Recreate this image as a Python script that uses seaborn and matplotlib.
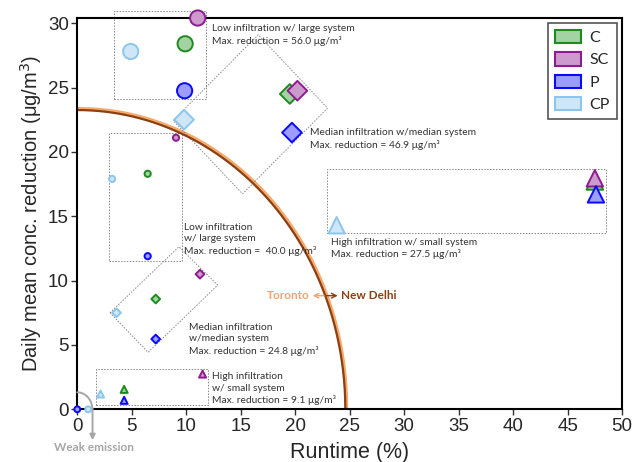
import numpy as np
import pandas as pd
import matplotlib
matplotlib.use("Agg")
import matplotlib.pyplot as plt
import seaborn as sns
from matplotlib.patches import Rectangle, Polygon, Patch

# systems and colours
systems = ["C", "SC", "P", "CP"]
edge_colors = {"C": "#1f8a1f", "SC": "#8e1c8e", "P": "#0a0aff", "CP": "#8cc6ec"}
fill_colors = {"C": "#a3d3a3", "SC": "#cc9acc", "P": "#9d9dff", "CP": "#cfe6f6"}

# (runtime %, reduction ug/m3) for C, SC, P, CP in each scenario
low_large_x = [9.9, 11.05, 9.85, 4.9]
low_large_y = [28.4, 30.4, 24.75, 27.8]
med_med_x = [19.5, 20.2, 19.7, 9.8]
med_med_y = [24.5, 24.75, 21.5, 22.5]
high_small_x = [47.5, 47.5, 47.6, 23.8]
high_small_y = [17.7, 17.95, 16.7, 14.3]
low_large2_x = [6.46, 9.06, 6.46, 3.2]
low_large2_y = [18.3, 21.1, 11.9, 17.9]
med_med2_x = [7.2, 11.26, 7.2, 3.6]
med_med2_y = [8.57, 10.5, 5.46, 7.5]
high_small2_x = [4.3, 11.5, 4.3, 2.14]
high_small2_y = [1.55, 2.74, 0.7, 1.19]
weak_x = [0.0, 1.0]
weak_y = [0.0, 0.0]
weak_sys = ["P", "CP"]

# Toronto / New Delhi boundary (quarter ellipse)
curve_rx = 24.6
curve_ry = 23.25

groups = [
    (low_large_x, low_large_y, systems, "o", 120),
    (med_med_x, med_med_y, systems, "D", 100),
    (high_small_x, high_small_y, systems, "^", 140),
    (low_large2_x, low_large2_y, systems, "o", 20),
    (med_med2_x, med_med2_y, systems, "D", 20),
    (high_small2_x, high_small2_y, systems, "^", 26),
    (weak_x, weak_y, weak_sys, "o", 18),
]

sns.set_style("ticks")
plt.rcParams["font.family"] = ["Liberation Sans", "DejaVu Sans"]

fig = plt.figure(figsize=(6.44, 4.62), dpi=100)
ax = fig.add_axes([0.12, 0.114, 0.846, 0.847])

# boundary curve
t = np.linspace(0, np.pi / 2, 300)
cx = curve_rx * np.sin(t)
cy = curve_ry * np.cos(t)
ax.plot(cx + 0.1, cy + 0.1, color="#f5a96a", lw=2.6, zorder=1)
ax.plot(cx, cy, color="#8b3f12", lw=1.6, zorder=2)

for gx, gy, gs, marker, size in groups:
    df = pd.DataFrame({"x": gx, "y": gy, "system": gs})
    sns.scatterplot(data=df, x="x", y="y", hue="system", palette=fill_colors,
                    marker=marker, s=size, linewidth=1.4,
                    edgecolor=[edge_colors[s] for s in gs],
                    legend=False, zorder=4, clip_on=False, ax=ax)

# dotted group boxes
box_kw = dict(fill=False, ls=(0, (1.5, 1.5)), lw=0.7, ec="#888888", clip_on=False, zorder=1)
ax.add_patch(Rectangle((3.4, 24.1), 8.45, 6.85, **box_kw))
ax.add_patch(Rectangle((2.9, 11.55), 6.7, 9.95, **box_kw))
ax.add_patch(Rectangle((22.9, 13.7), 25.6, 5.0, **box_kw))
ax.add_patch(Rectangle((1.7, 0.33), 10.3, 2.8, **box_kw))
ax.add_patch(Polygon([(8.8, 22.44), (16.6, 29.1), (22.97, 23.4), (15.17, 16.74)], closed=True, **box_kw))
ax.add_patch(Polygon([(3.0, 7.5), (9.33, 12.63), (12.88, 9.65), (6.51, 4.43)], closed=True, **box_kw))

note_kw = dict(fontsize=7.4, color="#333333", family=["Lato", "DejaVu Sans"],
               va="center", ha="left", linespacing=1.35, zorder=5)
ax.text(12.4, 29.1, "Low infiltration w/ large system\nMax. reduction = 56.0 μg/m³", **note_kw)
ax.text(21.4, 21.0, "Median infiltration w/median system\nMax. reduction = 46.9 μg/m³", **note_kw)
ax.text(23.3, 12.5, "High infiltration w/ small system\nMax. reduction = 27.5 μg/m³", **note_kw)
ax.text(9.8, 13.2, "Low infiltration\nw/ large system\nMax. reduction =  40.0 μg/m³", **note_kw)
ax.text(10.25, 5.45, "Median infiltration\nw/median system\nMax. reduction = 24.8 μg/m³", **note_kw)
ax.text(12.4, 1.6, "High infiltration\nw/ small system\nMax. reduction = 9.1 μg/m³", **note_kw)

# Toronto / New Delhi labels
ax.annotate("Toronto", xy=(22.75, 8.83), xytext=(21.3, 8.83), color="#f4a46c",
            fontsize=8.5, fontweight="bold", family=["Lato", "DejaVu Sans"],
            ha="right", va="center",
            arrowprops=dict(arrowstyle="<-", color="#f4a46c", lw=1.0, shrinkA=0, shrinkB=0))
ax.annotate("New Delhi", xy=(22.75, 8.83), xytext=(24.2, 8.83), color="#8b3f12",
            fontsize=8.5, fontweight="bold", family=["Lato", "DejaVu Sans"],
            ha="left", va="center",
            arrowprops=dict(arrowstyle="<-", color="#8b3f12", lw=1.0, shrinkA=0, shrinkB=0))

# weak emission marker
ta = np.linspace(0, np.pi / 2, 60)
ax.plot(1.38 * np.sin(ta), 1.32 * np.cos(ta), color="#a6a6a6", lw=1.4, clip_on=False, zorder=3)
ax.annotate("", xy=(1.4, -2.4), xytext=(1.4, 0.05), annotation_clip=False,
            arrowprops=dict(arrowstyle="-|>", color="#a6a6a6", lw=1.4, shrinkA=0, shrinkB=0,
                            mutation_scale=8))
ax.text(1.5, -3.0, "Weak emission", color="#a6a6a6", fontsize=8.5, fontweight="bold",
        family=["Lato", "DejaVu Sans"], ha="center", va="center", clip_on=False)

ax.set_xlim(0, 50)
ax.set_ylim(0, 30.4)
ax.set_xticks(np.arange(0, 51, 5))
ax.set_yticks(np.arange(0, 31, 5))
ax.tick_params(labelsize=13.5, direction="out", length=4, width=1, pad=2, color="#333333")
for sp in ax.spines.values():
    sp.set_visible(True)
    sp.set_linewidth(1.5)
    sp.set_color("black")
ax.set_xlabel("Runtime (%)", fontsize=15.5, labelpad=5)
ax.set_ylabel("Daily mean conc. reduction (μg/m$^3$)", fontsize=14.5, labelpad=3)

handles = [Patch(facecolor=fill_colors[s], edgecolor=edge_colors[s], lw=1.5, label=s) for s in systems]
leg = ax.legend(handles=handles, loc="upper right", frameon=True, fancybox=False,
                edgecolor="#555555", framealpha=1, borderaxespad=0.3, handlelength=1.6,
                handleheight=0.9, labelspacing=0.45, borderpad=0.45, handletextpad=0.55,
                prop={"family": ["Lato", "DejaVu Sans"], "size": 11.5})
leg.get_frame().set_linewidth(1.2)

fig.savefig("out.png", dpi=100)
